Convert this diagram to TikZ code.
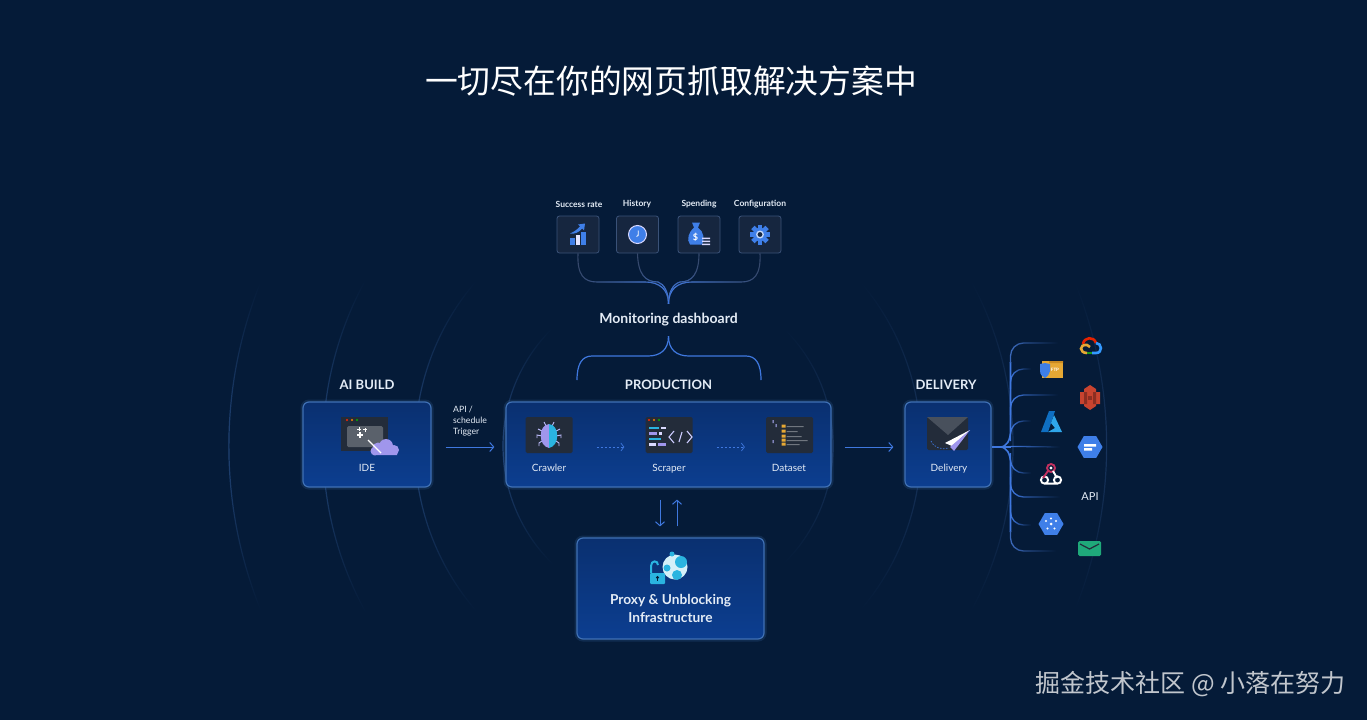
\documentclass[tikz,border=0pt]{standalone}
\usepackage{fontspec}
\setmainfont{Lato}
\newfontfamily\cjk{Noto Sans CJK SC}
\usetikzlibrary{arrows.meta,positioning,shapes.geometric,fadings,calc}
\definecolor{pagebg}{HTML}{051B38}
\definecolor{boxtop}{HTML}{0A3070}
\definecolor{boxbot}{HTML}{0C3E90}
\definecolor{boxline}{HTML}{3F70B4}
\definecolor{tilebg}{HTML}{16263F}
\definecolor{tileline}{HTML}{3A5278}
\definecolor{linkblue}{HTML}{3F78DF}
\definecolor{linkdim}{HTML}{36486A}
\definecolor{ripplebright}{HTML}{24487C}
\definecolor{rippledim}{HTML}{1A3761}
\definecolor{darktile}{HTML}{232C3A}
\definecolor{iconblue}{HTML}{3F7FE8}
\definecolor{lilac}{HTML}{A096EC}
\definecolor{cyanish}{HTML}{2AB4E0}
\definecolor{labelwhite}{HTML}{E4ECF6}
\definecolor{sthreered}{HTML}{C8432F}
\definecolor{sthreedark}{HTML}{8C2E22}
\definecolor{ftpyellow}{HTML}{E6A834}
\definecolor{ftpedge}{HTML}{C98A22}
\definecolor{azuredark}{HTML}{0F6FC2}
\definecolor{azurelight}{HTML}{2FA6EA}
\definecolor{mailgreen}{HTML}{1FA97A}
\definecolor{hookpink}{HTML}{C2305F}
\tikzfading[name=ripplefade, top color=transparent!100, bottom color=transparent!100, middle color=transparent!10]
\tikzfading[name=fanfade, left color=transparent!0, right color=transparent!100]
\tikzfading[name=toright, left color=transparent!100, right color=transparent!0]
\tikzfading[name=toleft, left color=transparent!0, right color=transparent!100]
\tikzset{
  stage/.style={draw=boxline, line width=1.2pt, rounded corners=6pt, top color=boxtop, bottom color=boxbot, preaction={draw=boxline, line width=5pt, opacity=.2}},
  tile/.style={draw=tileline, fill=tilebg, rounded corners=2.5pt, minimum width=42pt, minimum height=37pt, line width=.8pt},
  icontile/.style={fill=darktile, rounded corners=1.5pt, minimum width=47pt, minimum height=36pt, inner sep=0pt},
  heading/.style={text=labelwhite, font=\fontsize{13}{15}\selectfont\bfseries},
  boxlabel/.style={text=labelwhite, text height=7pt, text depth=2pt, inner sep=0pt, font=\fontsize{10}{11}\selectfont},
  toplabel/.style={text=labelwhite, font=\fontsize{8.5}{9}\selectfont\bfseries},
  arrow/.style={-{Straight Barb[length=4pt,width=9pt]}, draw=linkblue, line width=1pt},
  dashedarrow/.style={-{Straight Barb[length=3pt,width=8pt]}, draw=linkblue, line width=.7pt, dash pattern=on 2pt off 2pt},
  ripple/.style={draw=#1, line width=1.2pt, path fading=ripplefade},
  hublink/.style={draw=linkdim, line width=1.1pt, postaction={draw=linkblue, path fading=#1}},
  bracket/.style={draw=linkblue, line width=1.2pt},
  spoke/.style={draw=linkblue, line width=1.3pt, rounded corners=13pt, path fading=fanfade},
  sink/.style={minimum height=14pt, inner sep=0pt},
  % small drawings that sit on the tiles
  rateicon/.pic={
    \fill[iconblue] (-8,3) rectangle (-3.5,10);
    \fill[white!90!blue] (-2.5,0) rectangle (2,10);
    \fill[iconblue] (3,-3) rectangle (7.5,10);
    \fill[iconblue] (-8,-1) .. controls (-3,-3) and (0,-6) .. (2,-8) -- (0,-10) -- (7,-11) -- (6,-4) -- (4,-6) .. controls (1,-2) and (-4,0) .. (-8,-1);
  },
  clockicon/.pic={
    \draw[fill=iconblue, draw=white!85!blue, line width=1pt] (0,0) circle (9);
    \draw[white, line width=.8pt] (.8,-4) -- (.6,1) -- (-1,2);
  },
  bagicon/.pic={
    \fill[iconblue] (-7,-12) -- (1,-12) -- (-1,-7) .. controls (5,-3) and (6,6) .. (3,10) -- (-9,10) .. controls (-13,5) and (-10,-3) .. (-5,-7) -- cycle;
    \node[text=white, font=\fontsize{9}{9}\selectfont\bfseries] at (-3.5,3) {\$};
    \fill[white!85!blue] (3,3) rectangle (11,4.6) (3,6) rectangle (11,7.6) (3,9) rectangle (11,10.6);
  },
  gearicon/.pic={
    \foreach \a in {0,45,...,315}
      \fill[iconblue, rotate=\a] (-2.4,-10) rectangle (2.4,-6);
    \draw[iconblue, line width=3.4pt] (0,0) circle (5.5);
    \fill[white!70!iconblue] (0,0) circle (4);
    \fill[tilebg] (0,0) circle (2.4);
  },
  buildicon/.pic={
    \fill[darktile] (-26,-18) rectangle (21,16);
    \fill[red!70!orange] (-20,-15) circle (1.2);
    \fill[orange] (-15,-15) circle (1.2);
    \fill[green!70!black] (-10,-15) circle (1.2);
    \fill[white!25!darktile, rounded corners=1.5pt] (-20,-9) rectangle (16,12);
    \draw[white, line width=.8pt] (-8,-8) -- (-8,-4) (-10,-6) -- (-6,-6) (-2,-7) -- (-2,-3.4) (-3.8,-5.2) -- (-.2,-5.2);
    \draw[white, line width=1.2pt] (-7,-3) -- (-7,3) (-10,0) -- (-4,0);
    \fill[lilac] (6,20) rectangle (30,13) (11,13) circle (5.5) (19,11) circle (7) (27,15) circle (5) (8,16) circle (4.5);
    \draw[white, line width=1.4pt] (1,5) -- (14,18);
  },
  bugicon/.pic={
    \draw[white!75!blue, line width=.9pt] (-7,-4) -- (-11,-6) (-7,1) -- (-12,0) -- (-12,3) (-7,6) -- (-10,8) -- (-10,11) (7,-4) -- (11,-6) (7,1) -- (12,0) -- (12,3) (7,6) -- (10,8) -- (10,11) (-3,-9) -- (-5,-13) (3,-9) -- (5,-13);
    \fill[lilac] (0,-11) .. controls (-11,-10) and (-11,11) .. (0,13) -- cycle;
    \fill[cyanish] (0,-11) .. controls (11,-10) and (11,11) .. (0,13) -- cycle;
  },
  codeicon/.pic={
    \fill[red!70!orange] (-20,-15) circle (1.2);
    \fill[orange] (-15,-15) circle (1.2);
    \fill[green!70!black] (-10,-15) circle (1.2);
    \fill[cyanish] (-20,-8) rectangle (-10,-6);
    \fill[white!85!blue] (-8,-8) rectangle (-3,-6);
    \fill[lilac] (-20,-3) rectangle (-12,0);
    \fill[white!85!blue] (-10,-3) rectangle (-7,0);
    \fill[cyanish] (-20,3) rectangle (-8,5);
    \fill[white!85!blue] (-20,8) rectangle (-13,10.5);
    \fill[lilac] (-11,8) rectangle (-3,10.5);
    \draw[white!80!blue, line width=1.1pt] (5,-4) -- (0,2) -- (5,8) (13,-3) -- (10,7) (18,-4) -- (23,2) -- (18,8);
  },
  dataicon/.pic={
    \fill[white!70!blue] (-17,-15) rectangle (-16,-12) (-14,-11) rectangle (-13,-8) (-17,5) rectangle (-16,8);
    \fill[white!35!darktile] (-3,-9) rectangle (14,-8) (-3,-4) rectangle (8,-3) (-3,1) rectangle (12,2) (-3,5) rectangle (18,6) (-3,9) rectangle (10,10);
    \fill[ftpyellow] (-8,-10.5) rectangle (-4,-7.5) (-8,-5.5) rectangle (-4,-2.5) (-8,-.5) rectangle (-4,2.5) (-8,3.5) rectangle (-4,6.5) (-8,7.5) rectangle (-4,10.5);
  },
  mailicon/.pic={
    \fill[darktile, rounded corners=1.5pt] (-21,-17) rectangle (20,16);
    \fill[white!17!darktile] (-21,-17) -- (20,-17) -- (0,1) -- cycle;
    \draw[linkblue, line width=.7pt, dash pattern=on 1.5pt off 1.5pt] (-17,7) .. controls (-14,14) and (-6,16) .. (1,14);
    \fill[white] (22,-4) -- (-3,9) -- (4,12) -- cycle;
    \fill[lilac] (22,-4) -- (2,13) -- (6,17) -- cycle;
  },
  unlockicon/.pic={
    \draw[cyanish, line width=2pt] (-18,3) -- (-18,-4) .. controls (-18,-10) and (-11,-10) .. (-11,-5);
    \fill[cyanish, rounded corners=1pt] (-19,3) rectangle (-4,14);
    \fill[pagebg] (-11.5,7.5) circle (1.6);
    \fill[pagebg] (-12.1,7.5) rectangle (-10.9,11);
    \fill[white!80!cyanish] (6,-3) circle (12.5);
    \fill[cyanish] (3,-16) circle (2.5) (12,-8) circle (6) (-2,-2) circle (3.5) (8,5) circle (5);
  },
  gcpicon/.pic={
    \draw[red!70!orange!90!black, line width=2.6pt] (-7,-2) .. controls (-6,-9) and (4,-10) .. (6,-3);
    \draw[blue!50!cyan!80!white, line width=2.6pt] (6,-3) .. controls (12,-3) and (13,7) .. (6,7) -- (2,7);
    \draw[green!55!black!90!white, line width=2.6pt] (2,7) -- (-3,7);
    \draw[ftpyellow, line width=2.6pt] (-3,7) .. controls (-11,7) and (-11,-2) .. (-3,-1) -- (0,1);
  },
  ftpicon/.pic={
    \fill[ftpyellow] (-9,-9) rectangle (12,8);
    \fill[ftpedge] (-9,-9) -- (-2,-9) -- (-2,-7) -- (12,-7) -- (12,-9) -- cycle;
    \node[text=white, font=\fontsize{4.5}{5}\selectfont\bfseries, inner sep=0pt] at (4,0) {FTP};
    \fill[iconblue] (-11,-6) -- (-6,-7) -- (-1,-6) -- (-1,1) .. controls (-2,5) and (-4,7) .. (-6,8) .. controls (-8,7) and (-11,5) .. (-11,1) -- cycle;
  },
  sthreeicon/.pic={
    \fill[sthreered] (-10,-5) -- (-6,-5) -- (-6,-8) -- (0,-12) -- (6,-8) -- (6,-5) -- (10,-5) -- (10,7) -- (6,7) -- (6,9) -- (0,13) -- (-6,9) -- (-6,7) -- (-10,7) -- cycle;
    \fill[sthreedark] (-6,-5) rectangle (-3,7) (3,-5) rectangle (6,7);
    \fill[sthreedark] (-2,-1) rectangle (2,3);
  },
  azureicon/.pic={
    \fill[azuredark] (-10,10) -- (-2,-11) -- (4,-11) -- (-3,10) -- cycle;
    \fill[azurelight] (3,-7) -- (11,10) -- (-3,10) -- (4,6) -- (0,1) -- cycle;
  },
  webhookicon/.pic={
    \draw[white, line width=1.9pt] (-6.5,7) circle (3.6) (6.5,7) circle (3.6) (-6.5,10.6) -- (6.5,10.6);
    \draw[hookpink, line width=1.9pt] (0,-5) circle (4) (-3,-2) -- (-8,5);
    \draw[white, line width=1.9pt] (2,-2) -- (6,5);
    \fill[white] (0,-5) circle (1.6);
  },
  hexicon/.style={regular polygon, regular polygon sides=6, fill=iconblue, inner sep=0pt, minimum size=25pt},
}
\begin{document}
\begin{tikzpicture}[x=1pt, y=-1pt, node distance=8pt and 10pt]
  \useasboundingbox[fill=pagebg] (0,0) rectangle (1367,720);
  \coordinate (ripples) at (668,446);
  \coordinate (flowline) at (0,447);
  \draw[ripple=ripplebright] (ripples) ++(134:165) arc[start angle=134, end angle=226, radius=165];
  \draw[ripple=ripplebright] (ripples) ++(139:253) arc[start angle=139, end angle=221, radius=253];
  \draw[ripple=ripplebright] (ripples) ++(151:345) arc[start angle=151, end angle=209, radius=345];
  \draw[ripple=ripplebright] (ripples) ++(158:439) arc[start angle=158, end angle=202, radius=439];
  \draw[ripple=rippledim] (ripples) ++(46:165) arc[start angle=46, end angle=-46, radius=165];
  \draw[ripple=rippledim] (ripples) ++(41:253) arc[start angle=41, end angle=-41, radius=253];
  \draw[ripple=rippledim] (ripples) ++(29:345) arc[start angle=29, end angle=-29, radius=345];
  \draw[ripple=rippledim] (ripples) ++(22:439) arc[start angle=22, end angle=-22, radius=439];

  \node[text=white, font=\cjk\fontsize{32.8}{34}\selectfont] (title) at (671,81) {一切尽在你的网页抓取解决方案中};

  % monitoring row
  \node[tile] (rate) at (578,234.5) {};
  \node[tile] (history) at (637.5,234.5) {};
  \node[tile] (spending) at (699,234.5) {};
  \node[tile] (config) at (760,234.5) {};
  \pic at (rate) {rateicon};
  \pic at (history) {clockicon};
  \pic at (spending) {bagicon};
  \pic at (config) {gearicon};
  \node[toplabel] (ratelabel) at (579,204) {Success rate};
  \node[toplabel] (historylabel) at (637,204) {History};
  \node[toplabel] (spendinglabel) at (699,204) {Spending};
  \node[toplabel] (configlabel) at (760,204) {Configuration};
  \node[text=labelwhite, minimum height=32pt, inner sep=0pt, font=\fontsize{14}{15}\selectfont\bfseries] (monitor) at (668.5,320) {Monitoring dashboard};
  \draw[hublink=toright] (rate.south) .. controls (577,275) and (584,282) .. (597,282) -- (645,282) .. controls (660,282) and (668.5,290) .. (monitor.north);
  \draw[hublink=toright] (history.south) .. controls (638,274) and (645,282) .. (658,282) .. controls (664,284) and (668.5,292) .. (monitor.north);
  \draw[hublink=toleft] (spending.south) .. controls (699,274) and (692,282) .. (680,282) .. controls (673,284) and (668.5,292) .. (monitor.north);
  \draw[hublink=toleft] (config.south) .. controls (761,275) and (754,282) .. (741,282) -- (692,282) .. controls (677,282) and (668.5,290) .. (monitor.north);

  % main stages
  \node[stage, minimum width=128pt, minimum height=85pt] (ide) at (367,444.5) {};
  \node[stage, minimum width=325pt, minimum height=85pt] (production) at (668.5,444.5) {};
  \node[stage, minimum width=86pt, minimum height=85pt] (delivery) at (948,444.5) {};
  \node[stage, minimum width=187pt, minimum height=101pt] (proxy) at (670.5,588.5) {};
  \node[heading, above=8pt of ide] (aibuild) {AI BUILD};
  \node[heading, above=8pt of production] (prodhead) {PRODUCTION};
  \node[heading, above=8pt of delivery, xshift=-2pt] (delhead) {DELIVERY};

  \coordinate (brackleft) at (577,380);
  \coordinate (brackright) at (761,380);
  \draw[bracket] (monitor.south) .. controls (668.5,350) and (660,356) .. (648,356) -- (592,356) .. controls (582,356) and (577,364) .. (brackleft);
  \draw[bracket] (monitor.south) .. controls (668.5,350) and (677,356) .. (689,356) -- (746,356) .. controls (756,356) and (761,364) .. (brackright);

  \pic at (367,435) {buildicon};
  \node[boxlabel] (idelabel) at (367,468.5) {IDE};
  \node[icontile] (crawlicon) at (549,435) {};
  \node[icontile] (scrapeicon) at (669,435) {};
  \node[icontile] (dataseticon) at (789.5,435) {};
  \pic at (crawlicon) {bugicon};
  \pic at (scrapeicon) {codeicon};
  \pic at (dataseticon) {dataicon};
  \node[boxlabel] (crawler) at (549,468.5) {Crawler};
  \node[boxlabel] (scraper) at (669,468.5) {Scraper};
  \node[boxlabel] (dataset) at (789,468.5) {Dataset};
  \pic at (948,434) {mailicon};
  \node[boxlabel] (dellabel) at (949,468.5) {Delivery};

  \draw[arrow, shorten <=14pt, shorten >=11pt] (ide.east |- flowline) -- (production.west |- flowline);
  \draw[arrow, shorten <=13pt, shorten >=11pt] (production.east |- flowline) -- (delivery.west |- flowline);
  \draw[dashedarrow, shorten <=24pt, shorten >=21pt] (crawlicon.east |- flowline) -- (scrapeicon.west |- flowline);
  \draw[dashedarrow, shorten <=24pt, shorten >=21pt] (scrapeicon.east |- flowline) -- (dataseticon.west |- flowline);
  \node[text=labelwhite, align=left, anchor=north west, inner sep=0pt, font=\fontsize{8.7}{11}\selectfont] (trigger) at (453,405.5) {API /\\schedule\\Trigger};

  % proxy
  \coordinate (downx) at (660,0);
  \coordinate (upx) at (677,0);
  \draw[arrow, shorten <=12pt, shorten >=11pt] (downx |- production.south) -- (downx |- proxy.north);
  \draw[arrow, shorten <=11pt, shorten >=12pt] (upx |- proxy.north) -- (upx |- production.south);
  \pic at (669,570) {unlockicon};
  \node[text=labelwhite, align=center, font=\fontsize{13.7}{18.6}\selectfont\bfseries, inner sep=0pt] (proxylabel) at (670.5,608.5) {Proxy \& Unblocking\\Infrastructure};

  % delivery fan
  \coordinate (fanhub) at (1000,447);
  \coordinate (trunk) at (1010.5,447);
  \node[sink, minimum width=64pt] (gcp) at (1090,343) {};
  \node[sink, minimum width=40pt] (ftp) at (1051,369) {};
  \node[sink, minimum width=64pt] (sthree) at (1090,395) {};
  \node[sink, minimum width=40pt] (azure) at (1051,421) {};
  \node[sink, minimum width=66pt] (bigquery) at (1093,447) {};
  \node[sink, minimum width=40pt] (webhook) at (1051,473) {};
  \node[sink, minimum width=60pt, text=labelwhite, font=\fontsize{11}{12}\selectfont] (api) at (1090,497) {API};
  \node[sink, minimum width=40pt] (kube) at (1051,525) {};
  \node[sink, minimum width=66pt] (email) at (1089,551) {};
  \pic at (1090,346) {gcpicon};
  \pic at (1051,370) {ftpicon};
  \pic at (1090,397) {sthreeicon};
  \pic at (1051,422) {azureicon};
  \node[hexicon] (bqhex) at (1090,447) {};
  \fill[white] (1084,444) rectangle (1096,446.5) (1084,448) rectangle (1092,450.5);
  \pic at (1051,473) {webhookicon};
  \node[hexicon] (kubehex) at (1051,524) {};
  \fill[white] (1051,524) circle (1.5) (1051,518.5) circle (1.1) (1046,521) circle (1.1) (1056,521) circle (1.1) (1047.5,528.5) circle (1.1) (1054.5,528.5) circle (1.1);
  \fill[mailgreen, rounded corners=1.5pt] (1078,541) rectangle (1101,556);
  \draw[darktile, line width=1.2pt] (1080,544) -- (1089.5,549) -- (1099,544);

  \draw[linkblue, line width=2pt] (delivery.east |- flowline) -- (trunk);
  \draw[linkblue, line width=1.6pt] (fanhub) .. controls (1007,447) and (1010.5,440) .. (1010.5,430) -- (1010.5,362);
  \draw[linkblue, line width=1.6pt] (fanhub) .. controls (1007,447) and (1010.5,454) .. (1010.5,464) -- (1010.5,532);
  \draw[spoke, draw=linkblue!70!linkdim] ([yshift=-20pt]trunk |- gcp.west) |- (gcp.west);
  \draw[spoke] ([yshift=-20pt]trunk |- ftp.west) |- (ftp.west);
  \draw[spoke] ([yshift=-20pt]trunk |- sthree.west) |- (sthree.west);
  \draw[spoke] ([yshift=-20pt]trunk |- azure.west) |- (azure.west);
  \draw[spoke] ([yshift=.6pt]trunk) -- (bigquery.west);
  \draw[spoke] ([yshift=20pt]trunk |- webhook.west) |- (webhook.west);
  \draw[spoke] ([yshift=20pt]trunk |- api.west) |- (api.west);
  \draw[spoke] ([yshift=20pt]trunk |- kube.west) |- (kube.west);
  \draw[spoke, draw=linkblue!70!linkdim] ([yshift=20pt]trunk |- email.west) |- (email.west);

  \node[text=white!75!pagebg, font=\cjk\fontsize{25}{27}\selectfont] (mark) at (1190.5,684) {掘金技术社区 @ 小落在努力};
\end{tikzpicture}
\end{document}
